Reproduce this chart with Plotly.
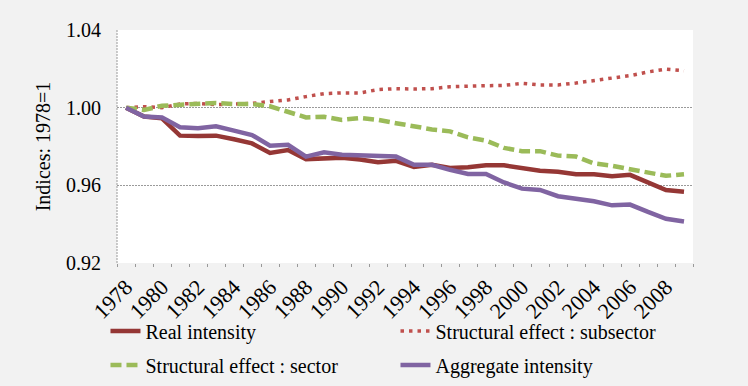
import plotly.graph_objects as go

years = list(range(1978, 2010))
tick_years = list(range(1978, 2010, 2))

real_intensity = [1.000, 0.9954, 0.9945, 0.9856, 0.9854, 0.9856, 0.9837, 0.9816, 0.9767, 0.9782, 0.9735,
                  0.9740, 0.9742, 0.9733, 0.9719, 0.9726, 0.9695, 0.9706, 0.9689, 0.9693, 0.9703, 0.9703,
                  0.9687, 0.9675, 0.9670, 0.9657, 0.9657, 0.9647, 0.9654, 0.9614, 0.9576, 0.9567]
struct_subsector = [1.000, 1.0005, 1.0000, 1.0019, 1.0022, 1.0015, 1.0019, 1.0022, 1.0032, 1.0040, 1.0057,
                    1.0072, 1.0076, 1.0076, 1.0093, 1.0098, 1.0096, 1.0098, 1.0108, 1.0112, 1.0113, 1.0115,
                    1.0125, 1.0117, 1.0117, 1.0127, 1.0139, 1.0150, 1.0165, 1.0184, 1.0198, 1.0190]
struct_sector = [1.000, 0.9988, 1.0010, 1.0015, 1.0015, 1.0024, 1.0019, 1.0019, 1.0007, 0.9980, 0.9950,
                 0.9953, 0.9937, 0.9947, 0.9937, 0.9920, 0.9902, 0.9888, 0.9878, 0.9847, 0.9830, 0.9793,
                 0.9776, 0.9776, 0.9753, 0.9748, 0.9713, 0.9701, 0.9683, 0.9666, 0.9649, 0.9657]
aggregate = [1.000, 0.9954, 0.9950, 0.9899, 0.9894, 0.9904, 0.9882, 0.9859, 0.9804, 0.9809, 0.9748,
             0.9770, 0.9758, 0.9755, 0.9753, 0.9748, 0.9706, 0.9706, 0.9680, 0.9659, 0.9659, 0.9615,
             0.9583, 0.9576, 0.9544, 0.9532, 0.9518, 0.9497, 0.9501, 0.9463, 0.9428, 0.9414]

y_ticks = [0.92, 0.96, 1.00, 1.04]

FONT = "Liberation Serif"

fig = go.Figure()
fig.add_trace(go.Scatter(x=years, y=real_intensity, mode="lines", name="Real intensity",
                         line=dict(color="#953735", width=4.5), legend="legend"))
fig.add_trace(go.Scatter(x=years, y=struct_subsector, mode="lines", name="Structural effect : subsector",
                         line=dict(color="#C0504D", width=3.5, dash="3.5px,5px"), legend="legend"))
fig.add_trace(go.Scatter(x=years, y=struct_sector, mode="lines", name="Structural effect : sector",
                         line=dict(color="#9BBB59", width=4.5, dash="11px,5px"), legend="legend2"))
fig.add_trace(go.Scatter(x=years, y=aggregate, mode="lines", name="Aggregate intensity",
                         line=dict(color="#8064A2", width=4.5), legend="legend2"))

legend_common = dict(orientation="h", font=dict(family=FONT, size=20, color="black"),
                     bgcolor="rgba(0,0,0,0)", entrywidth=245, entrywidthmode="pixels",
                     xanchor="left", yanchor="middle", traceorder="normal")

fig.update_layout(
    width=748, height=386,
    margin=dict(l=117, r=55, t=30, b=123, autoexpand=False),
    paper_bgcolor="#f2f2f2", plot_bgcolor="white",
    font=dict(family=FONT, size=20, color="black"),
    showlegend=True,
    legend=dict(x=-0.02, y=-0.292, **legend_common),
    legend2=dict(x=-0.02, y=-0.438, **legend_common),
    xaxis=dict(range=[1977.5, 2009.5], tickmode="array", tickvals=tick_years,
               ticktext=[str(y) for y in tick_years], tickangle=-45,
               showgrid=False, zeroline=False, showline=False, automargin=False,
               ticks="", ticklabelstandoff=6, tickfont=dict(family=FONT, size=22, color="black"),
               minor=dict(tickmode="array", tickvals=[1977.5 + i for i in range(33)],
                          ticks="outside", ticklen=3, tickcolor="#999999", tickwidth=1, showgrid=False)),
    yaxis=dict(range=[0.92, 1.04], tickmode="array", tickvals=y_ticks,
               ticktext=[f"{v:.2f}" for v in y_ticks],
               showgrid=True, gridcolor="#9a9a9a", griddash="2px,1px", gridwidth=1,
               zeroline=False, showline=False, automargin=False,
               ticks="", ticklabelstandoff=15,
               tickfont=dict(family=FONT, size=20, color="black"),
               title=dict(text="Indices: 1978=1", font=dict(family=FONT, size=20, color="black"), standoff=10)),
    shapes=[dict(type="line", xref="paper", yref="paper", x0=0, x1=0, y0=0, y1=1,
                 line=dict(color="#9a9a9a", width=1, dash="2px,1px"), layer="above")],
)

fig.write_html("out.html")
